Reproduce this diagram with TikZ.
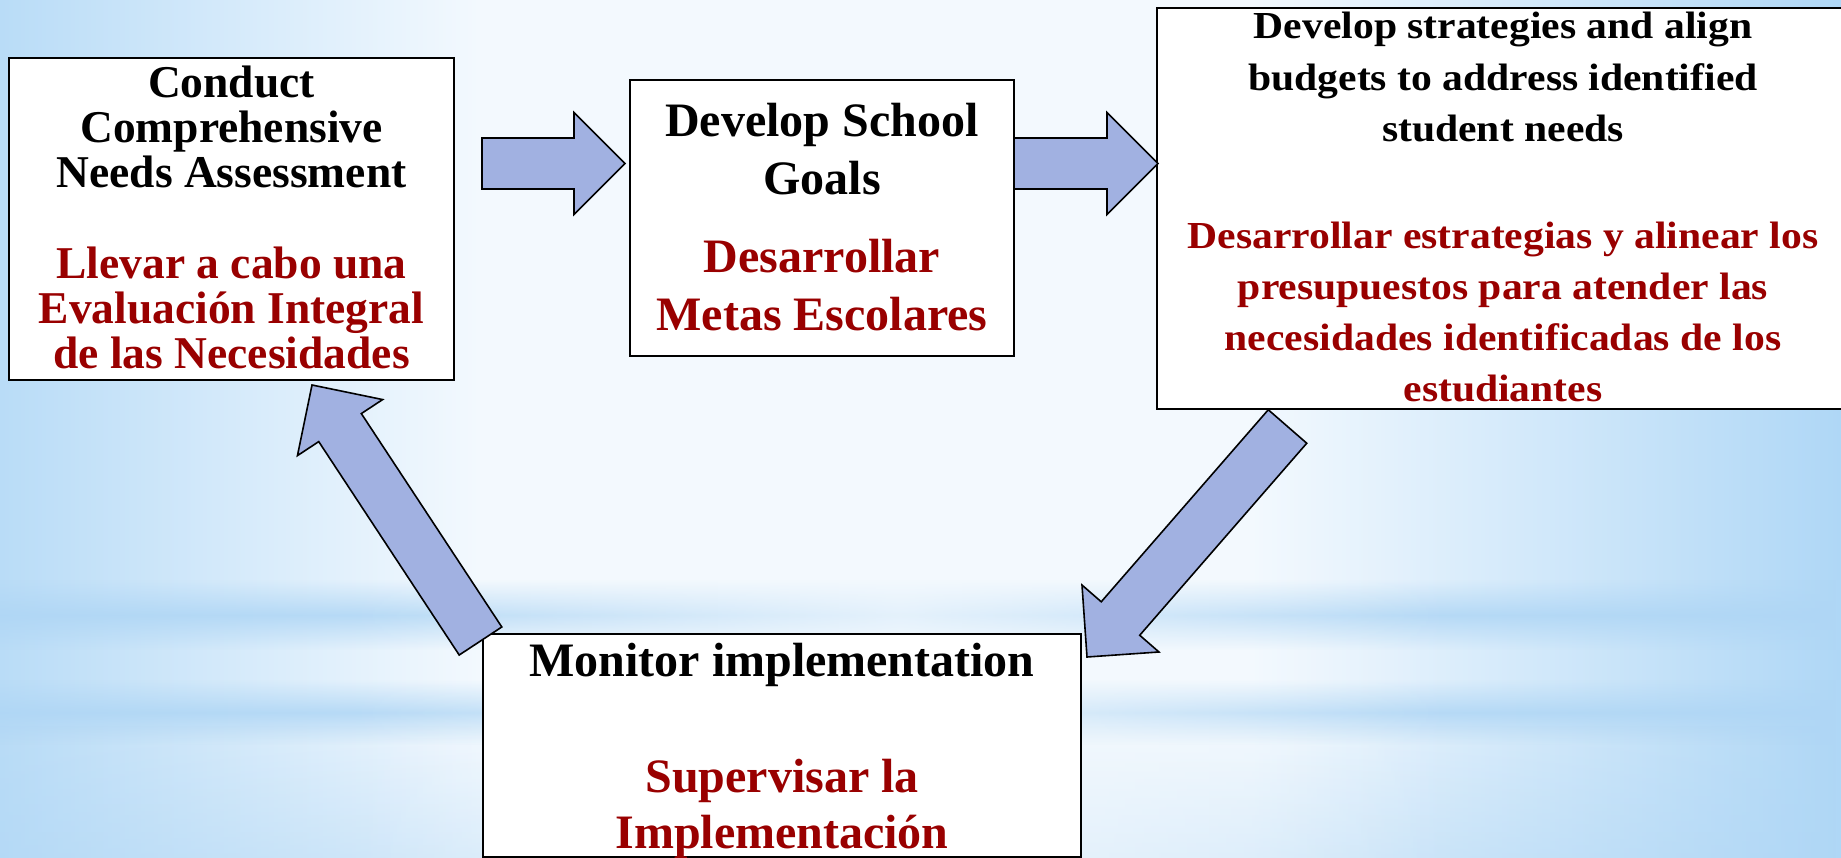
\documentclass[tikz,border=0pt]{standalone}
\usepackage{fontspec}
\setmainfont{Liberation Serif}
\newfontfamily\widefont{Liberation Serif}[FakeStretch=1.09]
\usetikzlibrary{calc,fadings}
\definecolor{txtred}{HTML}{990000}
\definecolor{arrowfill}{HTML}{A1B1E1}
\definecolor{bgL}{HTML}{B9DCF7}
\definecolor{bgR}{HTML}{AFD7F6}
\definecolor{bgwhite}{HTML}{F3F9FE}
\definecolor{bandblue}{HTML}{AFD6F5}
\tikzfading[name=fadeV, top color=transparent!100, bottom color=transparent!100, middle color=transparent!0]
\tikzfading[name=fadeDown, top color=transparent!100, bottom color=transparent!30]
\tikzfading[name=fadeMidH, left color=transparent!100, right color=transparent!100, middle color=transparent!0]
\tikzset{
  box/.style={draw=black, line width=2.5pt, fill=white, inner sep=0pt, rectangle},
  blkA/.style={anchor=base, inner sep=0pt, font=\bfseries\fontsize{45.5}{45.5}\selectfont, text=black},
  redA/.style={blkA, text=txtred},
  blk/.style={anchor=base, inner sep=0pt, font=\bfseries\fontsize{48}{48}\selectfont, text=black},
  redt/.style={blk, text=txtred},
  blksm/.style={anchor=base, inner sep=0pt, font=\widefont\bfseries\fontsize{38.2}{38.2}\selectfont, text=black},
  redsm/.style={blksm, text=txtred},
  barrowstyle/.style={draw=black, line width=1.6pt, fill=arrowfill, line join=miter},
}
% block arrow from tail coordinate #1 to tip coordinate #2, #3 = name of head-base coordinate
\newcommand\blockarrow[3]{%
  \coordinate (#3) at ($(#2)!51pt!(#1)$);
  \draw[barrowstyle]
    ($(#1)!25.5pt!90:(#2)$) --
    ($(#3)!25.5pt!-90:(#1)$) --
    ($(#3)!51pt!-90:(#1)$) --
    (#2) --
    ($(#3)!51pt!90:(#1)$) --
    ($(#3)!25.5pt!90:(#1)$) --
    ($(#1)!25.5pt!-90:(#2)$) -- cycle;
}
\begin{document}
\begin{tikzpicture}[x=1pt, y=-1pt]
\useasboundingbox (0,0) rectangle (1841,858);
% background
\fill[bgwhite] (0,0) rectangle (1841,858);
\fill[left color=bgL, right color=bgwhite] (0,0) rectangle (480,858);
\fill[left color=bgwhite, right color=bgR] (1250,0) rectangle (1841,858);
\fill[bandblue, fill opacity=0.85, path fading=fadeV] (0,580) rectangle (1841,650);
\fill[bandblue, fill opacity=0.85, path fading=fadeV] (0,680) rectangle (1841,745);
\fill[bandblue, fill opacity=0.6, path fading=fadeDown] (0,725) rectangle (1841,858);
\fill[bgwhite, fill opacity=0.75, path fading=fadeMidH] (350,560) rectangle (1450,858);

% boxes
\node[box, minimum width=445pt, minimum height=322pt] (b1) at (231.5,219) {};
\node[box, minimum width=384pt, minimum height=276pt] (b2) at (822,218) {};
\node[box, minimum width=692pt, minimum height=401pt] (b3) at (1503,208.5) {};
\node[box, minimum width=598pt, minimum height=223pt] (b4) at (782,745.5) {};

% box 1 text
\node[blkA] (t1a) at (231.5,98) {Conduct};
\node[blkA] (t1b) at (231.5,143) {Comprehensive};
\node[blkA] (t1c) at (231.5,188) {Needs Assessment};
\node[redA] (t1d) at (231.5,279) {Llevar a cabo una};
\node[redA] (t1e) at (231.5,324) {Evaluación Integral};
\node[redA] (t1f) at (231.5,368) {de las Necesidades};

% box 2 text
\node[blk] (t2a) at (822,137) {Develop School};
\node[blk] (t2b) at (822,195) {Goals};
\node[redt] (t2c) at (822,273) {Desarrollar};
\node[redt] (t2d) at (822,331) {Metas Escolares};

% box 3 text
\node[blksm] (t3a) at (1503,39) {Develop strategies and align};
\node[blksm] (t3b) at (1503,90.5) {budgets to address identified};
\node[blksm] (t3c) at (1503,142) {student needs};
\node[redsm] (t3d) at (1503,249) {Desarrollar estrategias y alinear los};
\node[redsm] (t3e) at (1503,300) {presupuestos para atender las};
\node[redsm] (t3f) at (1503,351) {necesidades identificadas de los};
\node[redsm] (t3g) at (1503,401) {estudiantes};

% box 4 text
\node[blk] (t4a) at (782,676) {Monitor implementation};
\node[redt] (t4b) at (782,792) {Supervisar la};
\node[redt] (t4c) at (782,848) {Implementación};

% arrows
\coordinate (a1s) at (482,163.5);
\coordinate (a1e) at (625,163.5);
\coordinate (a2s) at (1014,163.5);
\coordinate (a2e) at (1158,163.5);
\coordinate (a3s) at (1287.5,426.5);
\coordinate (a3e) at (1087,657);
\coordinate (a4s) at (480.5,641);
\coordinate (a4e) at (312,385);
\blockarrow{a1s}{a1e}{a1h}
\blockarrow{a2s}{a2e}{a2h}
\blockarrow{a3s}{a3e}{a3h}
\blockarrow{a4s}{a4e}{a4h}
\end{tikzpicture}
\end{document}
